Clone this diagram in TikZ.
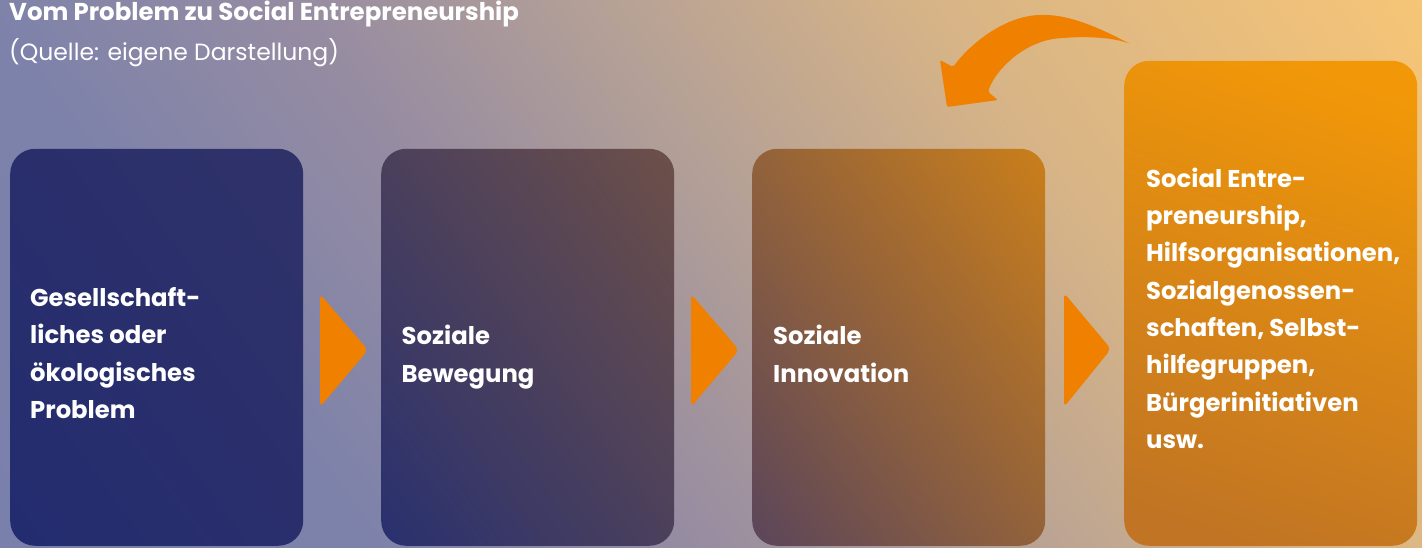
\documentclass[tikz,border=0pt]{standalone}
\usepackage{fontspec}
\setmainfont{Poppins}
\definecolor{bgA}{RGB}{122,128,172}
\definecolor{bgB}{RGB}{125,130,170}
\definecolor{bgC}{RGB}{150,140,162}
\definecolor{bgD}{RGB}{180,160,150}
\definecolor{bgE}{RGB}{215,180,135}
\definecolor{bgF}{RGB}{246,197,118}
\definecolor{orng}{RGB}{240,128,0}
\definecolor{b1a}{RGB}{35,44,112}
\definecolor{b1b}{RGB}{48,50,105}
\definecolor{b2a}{RGB}{40,48,112}
\definecolor{b2m}{RGB}{62,56,98}
\definecolor{b2b}{RGB}{110,80,72}
\definecolor{b3a}{RGB}{88,68,92}
\definecolor{b3b}{RGB}{205,128,25}
\definecolor{b4a}{RGB}{192,116,36}
\definecolor{b4b}{RGB}{242,152,8}
\pgfdeclarehorizontalshading{bgshade}{100bp}{color(0bp)=(bgA); color(25.5bp)=(bgA); color(35.5bp)=(bgB); color(44.1bp)=(bgC); color(52.1bp)=(bgD); color(61.1bp)=(bgE); color(74.5bp)=(bgF); color(100bp)=(bgF)}
\tikzset{
  boxbase/.style={minimum width=293pt, minimum height=397pt, rounded corners=25pt, inner sep=0pt, anchor=south west},
  boxshade/.style n args={3}{path picture={\shade[bottom color=#1, top color=#2, shading angle=#3] ([shift={(-245pt,-245pt)}]path picture bounding box.center) rectangle ++(490pt,490pt);}},
  boxshadem/.style n args={3}{path picture={\shade[bottom color=#1, middle color=#2, top color=#3, shading angle=-54] ([shift={(-240pt,-240pt)}]path picture bounding box.center) rectangle ++(480pt,480pt);}},
  lbl/.style={text=white, align=left, inner sep=0pt, anchor=base west, font=\fontsize{24.3}{37.3}\selectfont\bfseries},
  chev/.style={fill=orng, rounded corners=5pt},
}
\begin{document}
\begin{tikzpicture}[x=1pt,y=1pt]
\useasboundingbox (0,0) rectangle (1422,547);
\clip (0,0) rectangle (1422,547);
\shade[shading=bgshade, shading angle=36] (-39,-476.5) rectangle (1461,1023.5);
% title
\node[text=white, inner sep=0pt, anchor=base west, font=\fontsize{24.4}{28}\selectfont\bfseries] (title) at (9,526.5) {Vom Problem zu Social Entrepreneurship};
\node[text=white, inner sep=0pt, anchor=base west, font=\fontsize{23.5}{27}\selectfont] (source) at (9,486.5) {(Quelle: eigene Darstellung)};
% boxes
\node[boxbase, boxshade={b1a}{b1b}{-54}] (b1) at (10,1) {};
\node[boxbase, boxshadem={b2a}{b2m}{b2b}] (b2) at (381,1) {};
\node[boxbase, boxshade={b3a}{b3b}{-54}] (b3) at (752,1) {};
\node[boxbase, minimum height=485pt, boxshade={b4a}{b4b}{-20}] (b4) at (1124,1) {};
% labels (anchor = baseline of last line)
\node[lbl] (t1) at (30,128.7) {Gesellschaft-\\liches oder\\ökologisches\\Problem};
\node[lbl] (t2) at (401.5,165) {Soziale\\Bewegung};
\node[lbl] (t3) at (773,165) {Soziale\\Innovation};
\node[lbl] (t4) at (1146,98.7) {Social Entre-\\preneurship,\\Hilfsorganisationen,\\Sozialgenossen-\\schaften, Selbst-\\hilfegruppen,\\Bürgerinitiativen\\usw.};
% chevrons
\fill[chev] (320,253) -- (368,197) -- (320,140) -- cycle;
\fill[chev] (691,253) -- (739,197) -- (691,140) -- cycle;
\fill[chev] (1064,254) -- (1111,198) -- (1064,140) -- cycle;
% curved arrow
\fill[orng, rounded corners=2pt] (1130,503) .. controls (1100,519) and (1070,532) .. (1043,532)
  .. controls (1010,532) and (975,509) .. (953,480) -- (940,487) -- (947,440) -- (998,447) -- (988,455)
  .. controls (995,477) and (1025,507) .. (1063,509) .. controls (1090,511) and (1115,509) .. (1130,503) -- cycle;
\end{tikzpicture}
\end{document}
